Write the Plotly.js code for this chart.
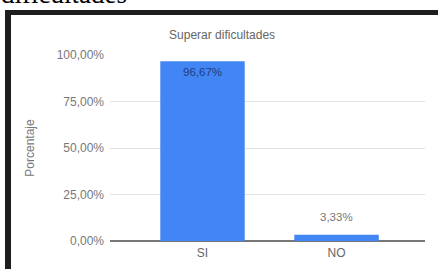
<!DOCTYPE html>
<html>
<head>
<meta charset="utf-8">
<script src="https://cdn.plot.ly/plotly-3.0.1.min.js"></script>
<style>
html,body{margin:0;padding:0;background:#fff;}
#chart{width:438px;height:269px;}
</style>
</head>
<body>
<div id="chart"></div>
<script>
const categories = ["SI", "NO"];
const percentages = [0.9667, 0.0333];
const yTicks = [0, 0.25, 0.5, 0.75, 1];
const chartTitle = "Superar dificultades";
const yTitle = "Porcentaje";
const headerText = "dificultades";

// plot area in pixels
const L = 110, R = 425, T = 55, B = 241, W = 438, H = 269;
const px = x => (x - L) / (R - L);
const py = y => (B - y) / (B - T);

const fam = "Liberation Sans, Arial, sans-serif";

const trace = {
  type: "bar",
  x: categories,
  y: percentages,
  width: 0.63,
  marker: {color: "#4285f4"},
  hoverinfo: "none"
};

// data labels: first inside top of bar, others above bar
const labelShift = [-11, 18];
const labelColor = ["#1f3f80", "#777"];
const labels = categories.map((c, i) => ({
  x: c, y: percentages[i], xref: "x", yref: "y",
  text: (percentages[i] * 100).toFixed(2).replace(".", ",") + "%",
  showarrow: false, yanchor: "middle", yshift: labelShift[i],
  font: {family: fam, size: 11.5, color: labelColor[i]}
}));

const layout = {
  width: W, height: H,
  margin: {l: L, r: W - R, t: T, b: H - B, pad: 0},
  paper_bgcolor: "#fff",
  plot_bgcolor: "#fff",
  separators: ",.",
  showlegend: false,
  font: {family: fam, color: "#777", size: 12},
  title: {text: chartTitle, x: 0.507, xanchor: "center", y: 1 - 35 / H, yanchor: "middle",
          font: {size: 12, color: "#666"}},
  xaxis: {
    range: [-0.69, 1.66],
    showgrid: false,
    showline: false,
    zeroline: false,
    ticks: "",
    tickfont: {size: 12, color: "#666"},
    ticklabelstandoff: 3
  },
  yaxis: {
    range: [0, 1],
    tickvals: yTicks,
    tickformat: ".2%",
    showgrid: true,
    gridcolor: "#e2e2e2",
    gridwidth: 1,
    zeroline: true,
    zerolinecolor: "#777",
    zerolinewidth: 1.5,
    showline: false,
    ticks: "",
    ticklabelstandoff: 5,
    tickfont: {size: 12, color: "#777"},
    title: {text: yTitle, standoff: 19, font: {size: 12, color: "#777"}}
  },
  shapes: [
    {type: "rect", xref: "paper", yref: "paper", x0: px(5), x1: px(11), y0: py(10), y1: py(275),
     fillcolor: "#1e1e1e", line: {width: 0}, layer: "above"},
    {type: "rect", xref: "paper", yref: "paper", x0: px(5), x1: px(445), y0: py(10), y1: py(15),
     fillcolor: "#1e1e1e", line: {width: 0}, layer: "above"}
  ],
  annotations: [
    {text: headerText, xref: "paper", yref: "paper", x: px(-1), y: py(11), xanchor: "left", yanchor: "bottom",
     showarrow: false, font: {family: "Liberation Serif, Times New Roman, serif", size: 27, color: "#000"}}
  ].concat(labels)
};

Plotly.newPlot("chart", [trace], layout, {staticPlot: true, displayModeBar: false});
</script>
</body>
</html>
